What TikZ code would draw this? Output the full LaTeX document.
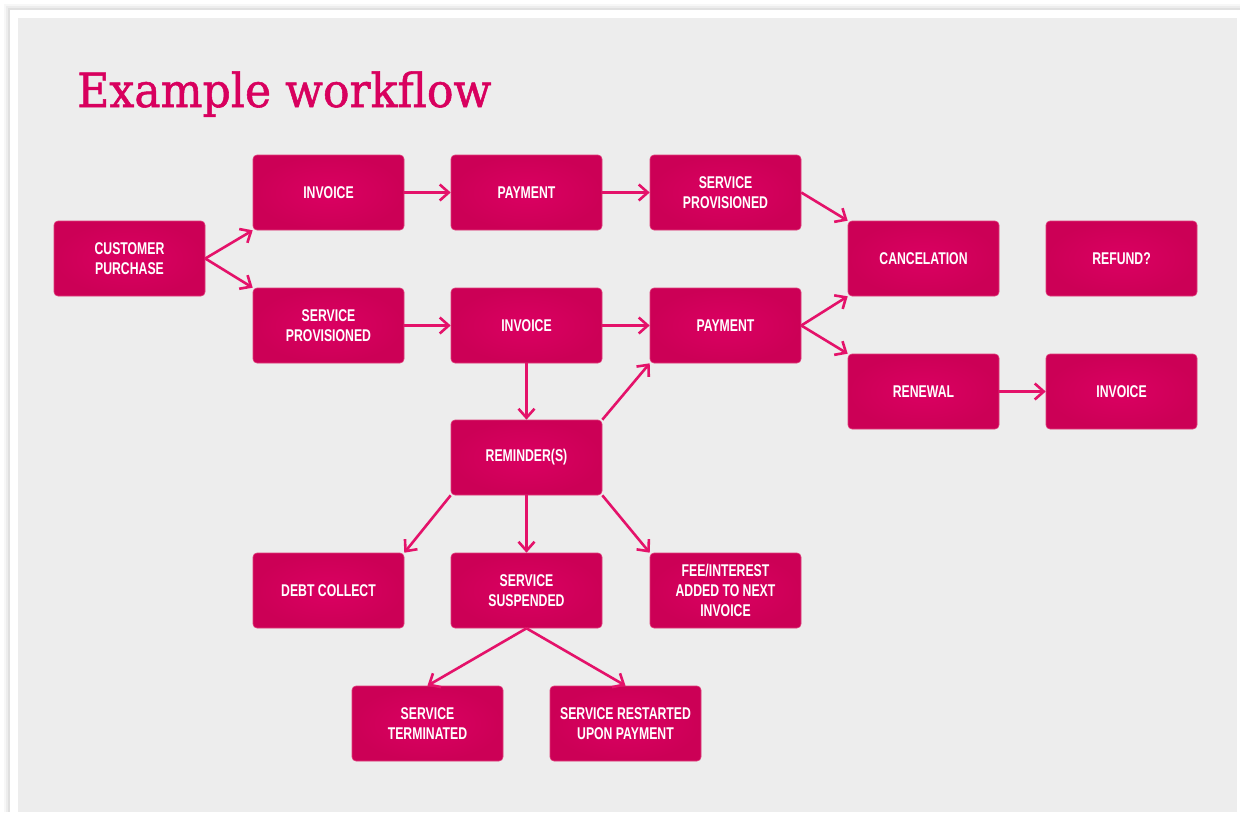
\documentclass[tikz,border=0pt]{standalone}
\usepackage{fontspec}
\setmainfont{Liberation Sans}
\newfontfamily\boxfont[FakeStretch=0.72]{Liberation Sans}
\newfontfamily\titlefont[FakeBold=1.2]{DejaVu Serif}
\usetikzlibrary{arrows.meta}
\definecolor{panel}{RGB}{237,237,237}
\definecolor{boxin}{RGB}{219,0,98}
\definecolor{boxout}{RGB}{204,0,86}
\definecolor{boxedge}{RGB}{222,60,120}
\definecolor{arrowc}{RGB}{228,18,106}
\definecolor{titlec}{RGB}{216,0,94}
\tikzset{
  box/.style={rounded corners=4pt, inner color=boxin, outer color=boxout,
    draw=boxedge, line width=0.6pt,
    minimum width=151pt, minimum height=75pt, inner sep=0pt,
    align=center, text=white, font=\boxfont\bfseries\fontsize{17}{20}\selectfont},
  arr/.style={draw=arrowc, line width=2.6pt,
    -{Straight Barb[length=9pt,width=16pt,line width=2.6pt]}},
}
\begin{document}
\begin{tikzpicture}[x=1pt,y=-1pt]
\useasboundingbox (0,0) rectangle (1240,812);
\fill[white] (0,0) rectangle (1240,812);
\foreach \o/\a in {6/0.03,4/0.04,2/0.05}
  \fill[black,opacity=\a] (10-\o,10-\o) rectangle (1240,812);
\fill[white] (10,10) rectangle (1240,812);
\fill[panel] (18,18) rectangle (1237,812);

\node[anchor=base west, text=titlec, inner sep=0pt,
  font=\titlefont\fontsize{47}{47}\selectfont] (title) at (77,107) {\scalebox{0.94}[1]{Example workflow}};

\node[box] (cp)   at (129.5,258.5) {CUSTOMER\\PURCHASE};
\node[box] (inv1) at (328.5,192.5) {INVOICE};
\node[box] (pay1) at (526.5,192.5) {PAYMENT};
\node[box] (sp1)  at (725.5,192.5) {SERVICE\\PROVISIONED};
\node[box] (canc) at (923.5,258.5) {CANCELATION};
\node[box] (ref)  at (1121.5,258.5) {REFUND?};
\node[box] (sp2)  at (328.5,325.5) {SERVICE\\PROVISIONED};
\node[box] (inv2) at (526.5,325.5) {INVOICE};
\node[box] (pay2) at (725.5,325.5) {PAYMENT};
\node[box] (ren)  at (923.5,391.5) {RENEWAL};
\node[box] (inv3) at (1121.5,391.5) {INVOICE};
\node[box] (rem)  at (526.5,457.5) {REMINDER(S)};
\node[box] (debt) at (328.5,590.5) {DEBT COLLECT};
\node[box] (susp) at (526.5,590.5) {SERVICE\\SUSPENDED};
\node[box] (fee)  at (725.5,590.5) {FEE/INTEREST\\ADDED TO NEXT\\INVOICE};
\node[box] (term) at (427.5,723.5) {SERVICE\\TERMINATED};
\node[box] (rest) at (625.5,723.5) {SERVICE RESTARTED\\UPON PAYMENT};

\draw[arr] (cp.east) -- (inv1.south west);
\draw[arr] (cp.east) -- (sp2.north west);
\draw[arr] (inv1) -- (pay1);
\draw[arr] (pay1) -- (sp1);
\draw[arr] (sp1.east) -- (canc.north west);
\draw[arr] (sp2) -- (inv2);
\draw[arr] (inv2) -- (pay2);
\draw[arr] (pay2.east) -- (canc.south west);
\draw[arr] (pay2.east) -- (ren.north west);
\draw[arr] (ren) -- (inv3);
\draw[arr] (inv2) -- (rem);
\draw[arr] (rem.north east) -- (pay2.south west);
\draw[arr] (rem.south west) -- (debt.north east);
\draw[arr] (rem) -- (susp);
\draw[arr] (rem.south east) -- (fee.north west);
\draw[arr] (susp.south) -- (term.north);
\draw[arr] (susp.south) -- (rest.north);
\end{tikzpicture}
\end{document}
